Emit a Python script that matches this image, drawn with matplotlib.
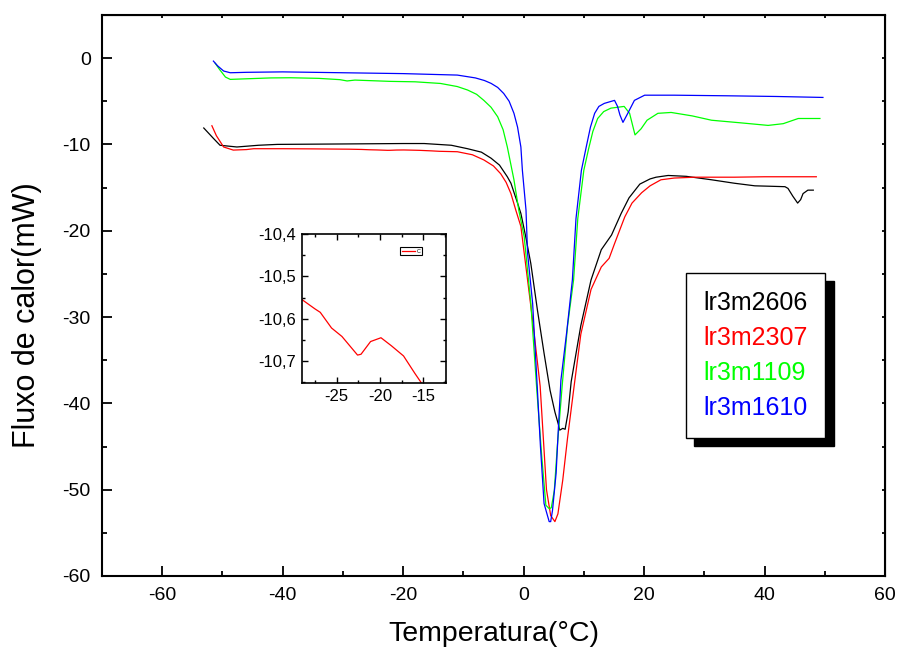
import matplotlib
matplotlib.use('Agg')
import matplotlib.pyplot as plt
from matplotlib.ticker import MultipleLocator, FuncFormatter

plt.rcParams['font.family'] = ['Liberation Sans', 'DejaVu Sans']
plt.rcParams['axes.unicode_minus'] = False

# lr3m2606 (black)
t_black = [-53.1, -51.5, -50.4, -47.6, -44, -40.9, -30, -20, -16.5, -12, -9.3, -7, -5.4, -4, -2.7,
           -2.1, -1.0, -0.45, 0.3, 1.2, 2.3, 3.4, 4.4, 5.2, 5.8, 6.0, 6.5, 6.9, 7.4, 7.9, 9.5, 11.2,
           12.9, 14.6, 16.2, 17.5, 19.3, 21, 22, 24, 27, 31.2, 35, 38.4, 41, 43.4, 43.9, 44.7, 45.5, 46.0,
           46.4, 47.2, 48.1]
q_black = [-8.1, -9.3, -10.1, -10.3, -10.1, -10.0, -9.95, -9.9, -9.9, -10.1, -10.5, -10.9, -11.6, -12.4, -13.75,
           -14.5, -16.8, -18.0, -20.5, -23.8, -29.2, -34.2, -38.5, -41.0, -42.5, -43.1, -42.9, -43.0, -41.0, -37.5, -31.0, -25.7,
           -22.2, -20.5, -18.0, -16.2, -14.6, -14.0, -13.8, -13.6, -13.7, -14.1, -14.5, -14.8, -14.85, -14.9, -15.1, -16.0, -16.8, -16.4,
           -15.7, -15.3, -15.3]

# lr3m2307 (red)
t_red = [-51.75, -51.0, -49.8, -48.2, -46, -44.8, -40, -35, -30, -29, -27.5, -26.9, -25.6, -24.4, -22.6,
         -22.2, -21.1, -19.9, -18.7, -17.3, -16.0, -15.3, -14, -11.0, -8.5, -6.6, -5, -3.8, -2.9, -2.1, -1.3,
         -0.45, 0.66, 1.5, 2.75, 3.8, 4.5, 5.2, 5.7, 6.5, 7.3, 8.3, 9.5, 11.2, 12.9, 14.2, 15.1, 16.8,
         18, 19.6, 21, 22.8, 25, 28.4, 35, 40, 45, 48.6]
q_red = [-7.84, -9.0, -10.3, -10.66, -10.6, -10.5, -10.5, -10.52, -10.55, -10.555, -10.577, -10.585, -10.622, -10.642, -10.686,
         -10.684, -10.654, -10.645, -10.664, -10.688, -10.729, -10.75, -10.8, -10.85, -11.2, -11.8, -12.5, -13.4, -14.4, -15.7, -17.6,
         -19.5, -25.7, -30.4, -38.0, -50.0, -53.0, -53.7, -52.8, -48.9, -44.0, -38.5, -32.0, -26.8, -24.2, -23.2, -21.5, -18.4,
         -16.8, -15.6, -14.8, -14.1, -13.9, -13.8, -13.8, -13.75, -13.75, -13.75]

# lr3m1109 (green)
t_green = [-51.2, -50.5, -49.5, -48.7, -46, -42, -38.7, -34, -30.5, -29.3, -28, -22.1, -18, -13.8, -11,
           -9.3, -7.8, -6.6, -5.4, -4.3, -3.4, -2.7, -1.6, -0.8, 0.1, 1.2, 2.2, 3.0, 3.7, 4.25, 4.6, 5.1, 5.6, 6.4, 7.3,
           8.3, 9.0, 10.0, 10.8, 11.5, 12.3, 13.3, 14.5, 16.7, 17.6, 18.5, 19.5, 20.5, 22.3, 24.5, 28, 31.2, 36, 40.6,
           43.1, 45.6, 49.2]
q_green = [-0.6, -1.3, -2.2, -2.47, -2.4, -2.3, -2.28, -2.35, -2.5, -2.65, -2.55, -2.7, -2.75, -2.94, -3.3,
           -3.7, -4.2, -4.9, -5.7, -6.8, -8.3, -10.3, -14.1, -17.6, -20.7, -28.4, -38.5, -46.0, -51.8, -52.2, -52.1, -50.1, -45.0, -38.0, -31.0,
           -25.7, -18.6, -13.0, -10.5, -8.5, -7.0, -6.2, -5.8, -5.6, -6.4, -8.9, -8.2, -7.2, -6.4, -6.3, -6.7, -7.2, -7.5, -7.8,
           -7.6, -7.0, -7.0]

# lr3m1610 (blue)
t_blue = [-51.5, -50.8, -49.8, -48.7, -46, -40, -30, -20, -11, -8, -6.5, -5.4, -4.3, -3.3, -2.4, -1.6, -1.0, -0.45, -0.2,
          0.4, 0.66, 1.5, 2.3, 2.8, 3.4, 3.8, 4.25, 4.5, 4.8, 5.4, 5.76, 6.2, 7.2, 8.1, 8.7, 9.6,
          10.4, 11.1, 11.8, 12.5, 13.4, 15.1, 15.6, 16.0, 16.5, 17.3, 18.4, 20.1, 25, 33.9, 42, 49.7]
q_blue = [-0.35, -0.9, -1.5, -1.7, -1.65, -1.6, -1.7, -1.8, -1.97, -2.3, -2.6, -2.93, -3.4, -4.1, -5.0, -6.4, -8.0, -10.3, -13.0,
          -17.6, -22.6, -28.4, -38.5, -45.0, -51.6, -52.6, -53.7, -53.7, -52.4, -48.1, -43.1, -37.3, -31.5, -25.7, -18.6, -13.0,
          -10.3, -8.0, -6.4, -5.6, -5.25, -4.9, -5.6, -6.6, -7.45, -6.4, -4.9, -4.3, -4.3, -4.37, -4.45, -4.56]

labels = ['lr3m2606', 'lr3m2307', 'lr3m1109', 'lr3m1610']
colors = ['black', '#ff0000', '#00ff00', '#0000ff']

fig = plt.figure(figsize=(9, 6.57), dpi=100)
ax = fig.add_axes([0.1133, 0.1233, 0.87, 0.854])

lines = []
for t, q, c, lab in zip([t_black, t_red, t_green, t_blue], [q_black, q_red, q_green, q_blue], colors, labels):
    l, = ax.plot(t, q, color=c, lw=0.9, label=lab)
    lines.append(l)

ax.set_xlim(-70, 60)
ax.set_ylim(-60, 5)
ax.xaxis.set_major_locator(MultipleLocator(20))
ax.xaxis.set_minor_locator(MultipleLocator(10))
ax.yaxis.set_major_locator(MultipleLocator(10))
ax.yaxis.set_minor_locator(MultipleLocator(5))
ax.tick_params(which='major', direction='in', length=7, width=1.3, labelsize=14, pad=8)
ax.tick_params(which='minor', direction='in', length=3.5, width=1.3)
for s in ax.spines.values():
    s.set_linewidth(1.5)

# tiny ticks on the top and right spines
top = ax.secondary_xaxis('top')
top.xaxis.set_major_locator(MultipleLocator(20))
top.xaxis.set_minor_locator(MultipleLocator(10))
top.tick_params(which='both', direction='in', length=2, width=1.3, labeltop=False)
right = ax.secondary_yaxis('right')
right.yaxis.set_major_locator(MultipleLocator(10))
right.yaxis.set_minor_locator(MultipleLocator(5))
right.tick_params(which='both', direction='in', length=2, width=1.3, labelright=False)

ax.set_xlabel('Temperatura(°C)', fontsize=20.5, labelpad=12)
ax.set_ylabel('Fluxo de calor(mW)', fontsize=22)
ax.yaxis.set_label_coords(-0.077, 0.465)

leg = ax.legend(handles=lines, loc='upper left', bbox_to_anchor=(0.746, 0.540),
                fontsize=18, handlelength=0, handletextpad=0, labelcolor='linecolor',
                fancybox=False, framealpha=1, edgecolor='black', borderpad=0.7,
                labelspacing=0.45, borderaxespad=0,
                shadow={'color': 'black', 'alpha': 1, 'ox': 5.8, 'oy': -5.8})
leg.get_frame().set_linewidth(1.0)

# inset with the red curve zoomed
ins = fig.add_axes([0.3356, 0.417, 0.16, 0.2268])
ins.plot(t_red, q_red, color='#ff0000', lw=0.9, label='C')
ins.set_xlim(-29, -12.4)
ins.set_ylim(-10.752, -10.4)
ins.xaxis.set_major_locator(MultipleLocator(5))
ins.xaxis.set_minor_locator(MultipleLocator(2.5))
ins.yaxis.set_major_locator(MultipleLocator(0.1))
ins.yaxis.set_minor_locator(MultipleLocator(0.05))
ins.yaxis.set_major_formatter(FuncFormatter(lambda v, p: ('%.1f' % v).replace('.', ',')))
ins.tick_params(which='major', direction='in', length=4, width=1.0, labelsize=12, pad=4)
ins.tick_params(which='minor', direction='in', length=2, width=1.0)
ins.tick_params(which='both', top=True, right=True)
for s in ins.spines.values():
    s.set_linewidth(1.2)
il = ins.legend(loc='upper right', bbox_to_anchor=(0.83, 0.91), fontsize=4, handlelength=2.5,
                fancybox=False, edgecolor='black', borderpad=0.2, borderaxespad=0,
                handletextpad=0.2, framealpha=1)
il.get_frame().set_linewidth(0.8)

fig.savefig('out.png', dpi=100)
